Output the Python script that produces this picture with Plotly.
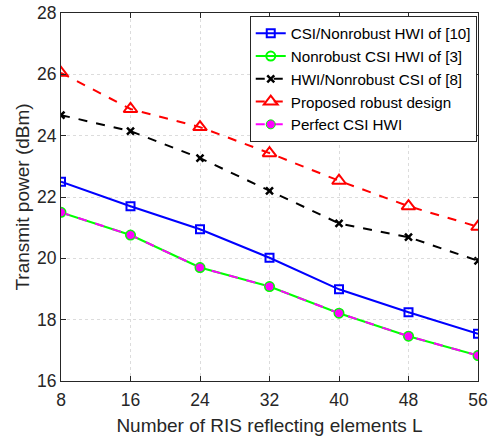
import plotly.graph_objects as go

L = [8, 16, 24, 32, 40, 48, 56]
csi_nonrobust_hwi = [22.5, 21.7, 20.95, 20.02, 18.99, 18.24, 17.54]
nonrobust_csi_hwi = [21.5, 20.76, 19.7, 19.08, 18.21, 17.46, 16.83]
hwi_nonrobust_csi = [24.67, 24.15, 23.27, 22.2, 21.14, 20.69, 19.92]
proposed_robust = [26.05, 24.87, 24.28, 23.43, 22.53, 21.7, 21.03]
perfect_csi_hwi = [21.5, 20.76, 19.7, 19.08, 18.21, 17.46, 16.83]

names = ["CSI/Nonrobust HWI of [10]", "Nonrobust CSI HWI of [3]",
         "HWI/Nonrobust CSI of [8]", "Proposed robust design", "Perfect CSI HWI"]

fig = go.Figure()
fig.add_trace(go.Scatter(x=L, y=csi_nonrobust_hwi, name=names[0], mode="lines+markers",
                         line=dict(color="#0000ff", width=2),
                         marker=dict(symbol="square-open", size=8, color="#0000ff", line=dict(width=2))))
fig.add_trace(go.Scatter(x=L, y=nonrobust_csi_hwi, name=names[1], mode="lines+markers",
                         line=dict(color="#00ff00", width=2),
                         marker=dict(symbol="circle-open", size=9, color="#00ff00", line=dict(width=2))))
fig.add_trace(go.Scatter(x=L, y=hwi_nonrobust_csi, name=names[2], mode="lines+markers",
                         line=dict(color="#000000", width=2, dash="dash"),
                         marker=dict(symbol="x-thin-open", size=7, color="#000000", line=dict(width=2.5))))
fig.add_trace(go.Scatter(x=L, y=proposed_robust, name=names[3], mode="lines+markers",
                         line=dict(color="#ff0000", width=2, dash="dash"),
                         marker=dict(symbol="triangle-up-open", size=12, color="#ff0000", line=dict(width=2))))
fig.add_trace(go.Scatter(x=L, y=perfect_csi_hwi, name=names[4], mode="lines+markers",
                         line=dict(color="#ff00ff", width=2, dash="dash"),
                         marker=dict(symbol="circle", size=9, color="#ff00ff", line=dict(width=1, color="#00ff00"))))

axis_common = dict(showline=True, linecolor="#262626", linewidth=1, mirror="ticks",
                   ticks="inside", ticklen=5, tickcolor="#262626",
                   showgrid=True, gridcolor="#dcdcdc", griddash="dot", gridwidth=1,
                   zeroline=False, automargin=False,
                   tickfont=dict(size=17.5, color="#262626"))

fig.update_xaxes(range=[8, 56], tickvals=L, ticklabelstandoff=3,
                 title=dict(text="Number of RIS reflecting elements L",
                            font=dict(size=19, color="#262626"), standoff=9), **axis_common)
fig.update_yaxes(range=[16, 28], dtick=2,
                 title=dict(text="Transmit power (dBm)",
                            font=dict(size=19, color="#262626"), standoff=2), **axis_common)

fig.update_layout(
    width=490, height=440,
    margin=dict(l=61, r=12, t=13, b=59),
    paper_bgcolor="white", plot_bgcolor="white",
    font=dict(family="Liberation Sans, Arial, sans-serif", color="#262626"),
    legend=dict(x=0.997, y=0.992, xanchor="right", yanchor="top",
                bgcolor="white", bordercolor="#262626", borderwidth=1,
                font=dict(size=15.2, color="#000000"), itemwidth=30),
    showlegend=True,
)

fig.write_html("out.html", post_script="document.body.style.margin='0';",
               config={"displayModeBar": False})
